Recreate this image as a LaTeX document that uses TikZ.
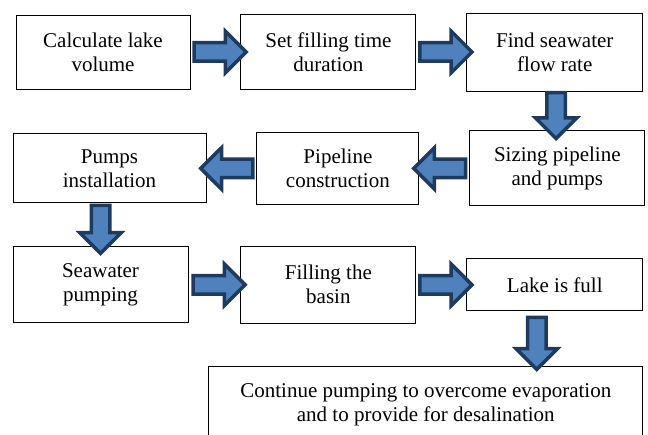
\documentclass[tikz,border=0pt]{standalone}
\usepackage{fontspec}
\setmainfont{LiberationSerif}[Extension=.ttf, UprightFont=*-Regular]
\usepackage{xcolor}
\usepackage{tikz}
\usetikzlibrary{positioning, shapes.arrows}
\definecolor{arrowfill}{HTML}{4F81BD}
\definecolor{arrowedge}{HTML}{1F3A5F}
\tikzset{
    block/.style={
        draw, line width = 0.9pt,
        minimum width = 175pt,
        minimum height = 75pt,
        align = center,
        font = \fontsize{21}{24}\selectfont
    },
    fatarrow/.style={
        single arrow, draw = arrowedge, fill = arrowfill,
        line width = 3.5pt, inner sep = 7.5pt,
        single arrow head extend = 11.5pt,
        minimum height = #1
    },
    fatarrow/.default = 52pt,
    fatright/.style = {fatarrow, shape border rotate = 0},
    fatleft/.style = {fatarrow, shape border rotate = 180},
    fatdown/.style = {fatarrow = #1, shape border rotate = 270},
    fatdown/.default = 48pt
}
\begin{document}
\begin{tikzpicture}[x = 1pt, y = -1pt]

    \useasboundingbox (0,0) rectangle (648,435);

    % first row
    \node[block, minimum width = 174pt, minimum height = 74pt] (volume) at (103,52) {Calculate lake\\volume};
    \node[block, right = 50pt of volume] (duration) {Set filling time\\duration};
    \node[block, right = 50pt of duration, minimum width = 176pt, minimum height = 78pt] (flowrate) {Find seawater\\flow rate};

    % second row
    \node[block, below = 39pt of flowrate, xshift = 2.5pt] (sizing) {Sizing pipeline\\and pumps};
    \node[block, left = 50pt of sizing, minimum width = 162pt, minimum height = 72pt] (pipeline) {Pipeline\\construction};
    \node[block, left = 50pt of pipeline, minimum width = 193pt, minimum height = 69pt] (pumps) {Pumps\\installation};

    % third row
    \node[block, below = 43pt of pumps.south west, anchor = north west, minimum height = 76pt] (pumping) {Seawater\\pumping};
    \node[block, right = 52pt of pumping, minimum height = 77pt] (basin) {Filling the\\basin};
    \node[block, right = 50pt of basin, minimum width = 176pt, minimum height = 52pt] (full) {Lake is full};
    \node[block, below = 55pt of full.south east, anchor = north east, minimum width = 434pt, minimum height = 76pt] (continue) {Continue pumping to overcome evaporation\\and to provide for desalination};

    \coordinate (drop) at ([xshift = -18pt]full.south);

    \path (volume.east) -- node[fatright] {} (duration.west);
    \path (duration.east) -- node[fatright] {} (flowrate.west);
    \path (flowrate.south) -- node[fatdown = 46pt] {} (sizing.north);
    \path (sizing.west) -- node[fatleft] {} (pipeline.east);
    \path (pipeline.west) -- node[fatleft] {} (pumps.east);
    \path (pumping.north |- pumps.south) -- node[fatdown] {} (pumping.north);
    \path (pumping.east) -- node[fatright] {} (basin.west);
    \path (basin.east) -- node[fatright] {} (full.west);
    \path (drop) -- node[fatdown = 52pt] {} (drop |- continue.north);

\end{tikzpicture}
\end{document}
